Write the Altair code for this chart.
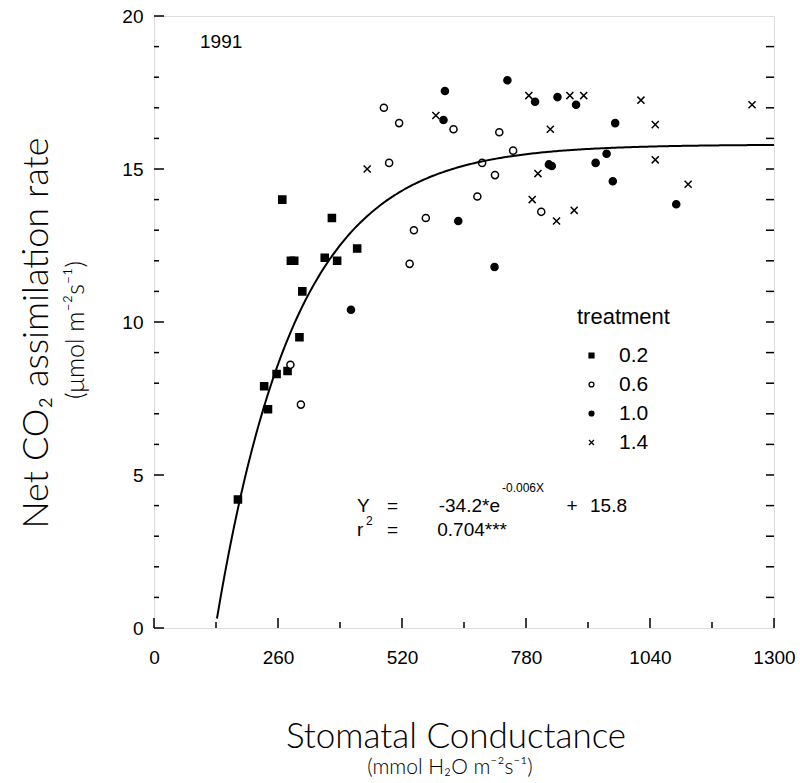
import altair as alt
import numpy as np
import pandas as pd

# ---------------- data ----------------
TREATMENTS = ["0.2", "0.6", "1.0", "1.4"]

T02_X = [269, 373, 426, 287, 294, 358, 384, 311, 305, 280, 257, 231, 239, 176]
T02_Y = [14.0, 13.4, 12.4, 12.0, 12.0, 12.1, 12.0, 11.0, 9.5, 8.4, 8.3, 7.9, 7.15, 4.2]

T06_X = [482, 514, 493, 536, 286, 308, 628, 724, 753, 688, 715, 678, 812, 570, 545]
T06_Y = [17.0, 16.5, 15.2, 11.9, 8.6, 7.3, 16.3, 16.2, 15.6, 15.2, 14.8, 14.1, 13.6, 13.4, 13.0]

T10_X = [413, 741, 610, 799, 846, 885, 607, 967, 828, 834, 926, 949, 962, 638, 714, 1095]
T10_Y = [10.4, 17.9, 17.55, 17.2, 17.35, 17.1, 16.6, 16.5, 15.15, 15.1, 15.2, 15.5, 14.6, 13.3, 11.8, 13.85]

T14_X = [447, 786, 872, 901, 1021, 591, 831, 1051, 1051, 805, 793, 844, 881, 1254, 1120]
T14_Y = [15.0, 17.4, 17.4, 17.4, 17.25, 16.75, 16.3, 16.45, 15.3, 14.85, 14.0, 13.3, 13.65, 17.1, 14.5]

# fitted curve printed on the chart: Y = -34.2*e^(-0.006X) + 15.8
FIT_A = -34.2
FIT_B = -0.006
FIT_C = 15.8
FIT_X_START = 132
FIT_X_END = 1300

X_LABELS = [0, 260, 520, 780, 1040, 1300]
X_MINOR = [130, 390, 650, 910, 1170]
Y_LABELS = [0, 5, 10, 15, 20]
Y_MINOR = [v for v in range(1, 20) if v % 5 != 0]
Y_RIGHT = list(range(1, 20))

# ---------------- tables ----------------
rows = []
for t, xs_, ys_ in [("0.2", T02_X, T02_Y), ("0.6", T06_X, T06_Y),
                    ("1.0", T10_X, T10_Y), ("1.4", T14_X, T14_Y)]:
    for gx, gy in zip(xs_, ys_):
        rows.append({"g": gx, "a": gy, "treatment": t})
pts = pd.DataFrame(rows)

cx = np.linspace(FIT_X_START, FIT_X_END, 300)
curve = pd.DataFrame({"g": cx, "a": FIT_A * np.exp(FIT_B * cx) + FIT_C})

W, H = 620, 612
OX, OY = 154, 16  # plot origin in page pixels

xs = alt.Scale(domain=[0, 1300], nice=False, zero=False)
ys = alt.Scale(domain=[0, 20], nice=False, zero=False)

NUM_FONT = "Liberation Sans"
TITLE_FONT = "Lato"

AX_X = alt.Axis(values=X_LABELS, format="d", ticks=False, domain=False, grid=False, title=None,
                labelFont=NUM_FONT, labelFontSize=19, labelColor="black",
                labelPadding=20, labelFlush=False)
AX_Y = alt.Axis(values=Y_LABELS, format="d", ticks=False, domain=False, grid=False, title=None,
                labelFont=NUM_FONT, labelFontSize=19, labelColor="black",
                labelPadding=11)

SHAPES = ["square", "circle", "circle", "M-1,-1L1,1M-1,1L1,-1"]
FILLS = ["black", "white", "black", "black"]
STROKES = ["black", "black", "black", "black"]

leg = dict(orient="none", legendX=423, legendY=291, title="treatment",
           titleFont=NUM_FONT, titleFontSize=22, titleFontWeight="normal",
           titleColor="black", titlePadding=16,
           labelFont=NUM_FONT, labelFontSize=21, labelColor="black",
           symbolSize=24, symbolOffset=4, labelOffset=17, rowPadding=7,
           symbolStrokeWidth=1.3, padding=0)

points = alt.Chart(pts).mark_point(strokeWidth=1.5, size=50, opacity=1).encode(
    x=alt.X("g:Q", scale=xs, axis=AX_X),
    y=alt.Y("a:Q", scale=ys, axis=AX_Y),
    shape=alt.Shape("treatment:N", scale=alt.Scale(domain=TREATMENTS, range=SHAPES),
                    legend=alt.Legend(**leg)),
    fill=alt.Fill("treatment:N", scale=alt.Scale(domain=TREATMENTS, range=FILLS),
                  legend=alt.Legend(**leg)),
    stroke=alt.Stroke("treatment:N", scale=alt.Scale(domain=TREATMENTS, range=STROKES),
                      legend=alt.Legend(**leg)),
)

line = alt.Chart(curve).mark_line(color="black", strokeWidth=2).encode(
    x=alt.X("g:Q", scale=xs, axis=AX_X),
    y=alt.Y("a:Q", scale=ys, axis=AX_Y),
)


def yticks(vals, x0, x1, w=1.5):
    return alt.Chart(pd.DataFrame({"a": vals})).mark_rule(color="black", strokeWidth=w).encode(
        y=alt.Y("a:Q", scale=ys, axis=AX_Y), x=alt.value(x0), x2=alt.value(x1))


def xticks(vals, y0, y1, w=1.5):
    return alt.Chart(pd.DataFrame({"g": vals})).mark_rule(color="black", strokeWidth=w).encode(
        x=alt.X("g:Q", scale=xs, axis=AX_X), y=alt.value(y0), y2=alt.value(y1))


ticks = [
    yticks(Y_LABELS, 0, 10),
    yticks(Y_MINOR, 0, 5),
    yticks(Y_RIGHT, W - 8, W),
    xticks(X_LABELS, H, H - 10),
    xticks(X_MINOR, H, H - 6),
]


def label(text, px, py, size=18, align="left", baseline="alphabetic", font=NUM_FONT,
          angle=None, weight="normal"):
    kw = dict(align=align, baseline=baseline, font=font, fontSize=size, color="black",
              fontWeight=weight)
    if angle is not None:
        kw["angle"] = angle
    return alt.Chart(pd.DataFrame({"t": [text]})).mark_text(**kw).encode(
        text="t:N", x=alt.value(px - OX), y=alt.value(py - OY))


texts = [
    label("1991", 200, 48, size=19),
    label("Y", 357, 512, size=19),
    label("=", 387, 512, size=19),
    label("-34.2*e", 500, 512, size=19, align="right"),
    label("-0.006X", 502, 492, size=12),
    label("+", 572, 512, size=19, align="center"),
    label("15.8", 590, 512, size=19),
    label("r", 357, 536, size=19),
    label("2", 366, 525, size=12),
    label("=", 387, 536, size=19),
    label("0.704***", 507, 536, size=19, align="right"),
    label("Stomatal Conductance", 456, 737, size=35, align="center", baseline="middle",
          font=TITLE_FONT, weight=300),
    label("(mmol H₂O m⁻²s⁻¹)", 450, 768, size=21, align="center", baseline="middle",
          font=TITLE_FONT, weight=300),
    label("Net CO₂ assimilation rate", 37, 333, size=36, align="center", baseline="middle",
          font=TITLE_FONT, angle=270, weight=300),
    label("(μmol m⁻²s⁻¹)", 76, 330, size=25, align="center", baseline="middle",
          font=TITLE_FONT, angle=270, weight=300),
]

chart = alt.layer(points, line, *ticks, *texts).properties(
    width=W, height=H,
    padding={"left": OX, "top": OY, "right": 800 - OX - W, "bottom": 783 - OY - H},
    autosize=alt.AutoSizeParams(type="none"),
).configure_view(stroke="black", strokeWidth=2).configure(background="white")

chart.save("out.html", embed_options={"renderer": "svg", "actions": False})
